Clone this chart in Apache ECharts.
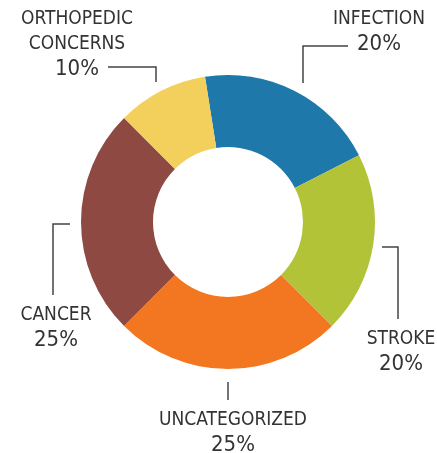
<!DOCTYPE html>
<html>
<head>
<meta charset="utf-8">
<script src="https://cdn.jsdelivr.net/npm/echarts@6/dist/echarts.min.js"></script>
<style>
  html, body { margin: 0; padding: 0; background: #fff; }
  #chart { width: 437px; height: 453px; }
</style>
</head>
<body>
<div id="chart"></div>
<script>
// share of cases by category (%)
var categories = ['INFECTION', 'STROKE', 'UNCATEGORIZED', 'CANCER', 'ORTHOPEDIC\nCONCERNS'];
var shares = [20, 20, 25, 25, 10];
var colors = ['#1e78aa', '#b2c338', '#f37721', '#8d4942', '#f3cf5b'];

// where each label sits and how its bracket line runs (pixels)
var labelPos = [
  { x: 379, y: 7,   line: [[303, 83], [303, 46], [348, 46]] },
  { x: 401, y: 327, line: [[382, 247], [398, 247], [398, 319]] },
  { x: 233, y: 408, line: [[228, 382], [228, 391], [228, 400]] },
  { x: 56,  y: 303, line: [[70, 224], [53, 224], [53, 295]] },
  { x: 77,  y: 7,   line: [[156, 82], [156, 67], [108, 67]] }
];

var chart = echarts.init(document.getElementById('chart'), null, { renderer: 'canvas' });

var fontFam = '"DejaVu Sans Condensed", "Liberation Sans Narrow", "DejaVu Sans", sans-serif';

var option = {
  animation: false,
  color: colors,
  series: [
    {
      type: 'pie',
      center: [228, 222],
      radius: [75, 147],
      startAngle: 99,
      clockwise: true,
      avoidLabelOverlap: false,
      label: {
        show: true,
        position: 'outside',
        formatter: function (p) {
          var lines = p.name.split('\n').map(function (s) { return '{n|' + s + '}'; });
          return lines.join('\n') + '\n{p|' + p.value + '%}';
        },
        rich: {
          n: { fontFamily: fontFam, fontSize: 19, lineHeight: 25, color: '#333', align: 'center' },
          p: { fontFamily: fontFam, fontSize: 22, lineHeight: 25, color: '#333', align: 'center' }
        }
      },
      labelLine: {
        show: true,
        smooth: false,
        lineStyle: { color: '#444', width: 1.5 }
      },
      labelLayout: function (params) {
        var pos = labelPos[params.dataIndex];
        return {
          x: pos.x,
          y: pos.y,
          align: 'center',
          verticalAlign: 'top',
          labelLinePoints: pos.line
        };
      },
      emphasis: { disabled: true },
      data: categories.map(function (c, i) {
        return { name: c, value: shares[i] };
      })
    }
  ]
};

chart.setOption(option);
</script>
</body>
</html>
